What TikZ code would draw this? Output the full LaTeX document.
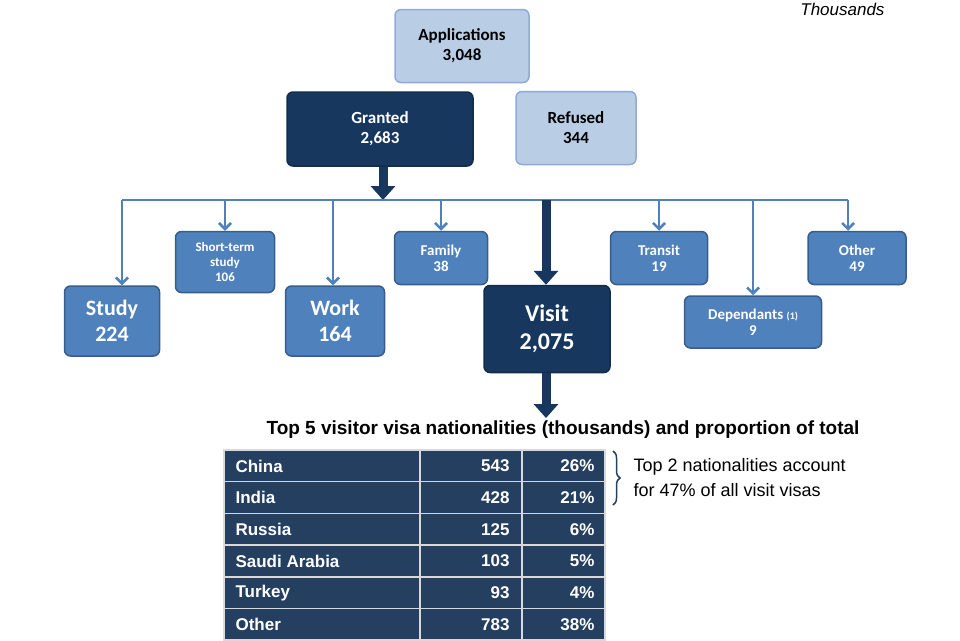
\documentclass[tikz,border=0pt]{standalone}
\usepackage{fontspec}
\setmainfont{Carlito}
\newfontfamily\arialfont{Liberation Sans}
\usetikzlibrary{arrows.meta, positioning, decorations.pathreplacing}
\definecolor{lightbox}{HTML}{B9CDE5}
\definecolor{lightedge}{HTML}{8EAADB}
\definecolor{darkbox}{HTML}{17375E}
\definecolor{midbox}{HTML}{4F81BD}
\definecolor{midedge}{HTML}{385D8A}
\definecolor{tablebg}{HTML}{243F60}
\tikzset{
  lightnode/.style={rectangle, rounded corners=6pt, draw=lightedge, line width=1.5pt, fill=lightbox, text=black, font=\bfseries\fontsize{17}{20}\selectfont, align=center},
  darknode/.style={rectangle, rounded corners=6pt, draw=darkbox!80!black, line width=1.5pt, fill=darkbox, text=white, align=center},
  catnode/.style={rectangle, rounded corners=6pt, draw=midedge, line width=1.5pt, fill=midbox, text=white, align=center, font=\bfseries\fontsize{15}{16}\selectfont},
  bignode/.style={catnode, font=\bfseries\fontsize{22}{26}\selectfont},
  thinarrow/.style={midbox, line width=2.5pt, -{Straight Barb[length=6pt,width=12pt]}},
  fatarrow/.style={darkbox, line width=9pt, -{Triangle[length=14pt,width=24pt]}},
  cellline/.style={draw=white!85!black, line width=1.5pt},
  celltext/.style={text=white, font=\arialfont\bfseries\fontsize{17}{20}\selectfont}
}
\begin{document}
\begin{tikzpicture}[x=1pt, y=-1pt]
    \useasboundingbox (0,0) rectangle (960,640);
    % Top boxes
    \node[lightnode, minimum width=134pt, minimum height=73pt] (apps) at (462,46) {Applications\\3,048};
    \node[darknode, minimum width=186pt, minimum height=74pt, font=\bfseries\fontsize{17}{20}\selectfont] (granted) at (380,129) {Granted\\2,683};
    \node[lightnode, minimum width=120pt, minimum height=73pt] (refused) at (576,128) {Refused\\344};
    \node[anchor=north east, font=\itshape\arialfont\fontsize{17}{20}\selectfont] (units) at (888,0) {Thousands};
    
    % Categories
    \node[bignode, minimum width=95pt, minimum height=70pt] (study) at (112,321) {Study\\224};
    \node[catnode, minimum width=99pt, minimum height=61pt, font=\bfseries\fontsize{13}{15}\selectfont] (short) at (225,262) {Short-term\\study\\106};
    \node[bignode, minimum width=99pt, minimum height=70pt] (work) at (335,321) {Work\\164};
    \node[catnode, minimum width=93pt, minimum height=53pt] (family) at (441,258) {Family\\38};
    \node[darknode, minimum width=126pt, minimum height=87pt, font=\bfseries\fontsize{24}{28}\selectfont] (visit) at (547,329) {Visit\\2,075};
    \node[catnode, minimum width=97pt, minimum height=53pt] (transit) at (659,258) {Transit\\19};
    \node[catnode, minimum width=137pt, minimum height=52pt] (dep) at (753,322) {Dependants {\fontsize{10}{12}\selectfont(1)}\\9};
    \node[catnode, minimum width=98pt, minimum height=53pt] (other) at (857,258) {Other\\49};
    
    % Connectors
    \coordinate (split) at (383,200);
    \coordinate (left) at (122,200);
    \coordinate (right) at (848,200);
    \draw[fatarrow] (granted.south -| split) -- (split);
    \draw[midbox, line width=2.5pt] (left) -- (right);
    \draw[thinarrow] (left) -- (left |- study.north);
    \draw[thinarrow] (225,200) -- (short.north);
    \draw[thinarrow] (333,200) -- (333,0 |- work.north);
    \draw[thinarrow] (441,200) -- (family.north);
    \draw[fatarrow] (546,200) -- (546,0 |- visit.north);
    \draw[thinarrow] (659,200) -- (transit.north);
    \draw[thinarrow] (753,200) -- (dep.north);
    \draw[thinarrow] (right) -- (right |- other.north);
    \coordinate (tabletop) at (546,418);
    \draw[fatarrow] (visit.south -| tabletop) -- (tabletop);
    
    % Table
    \node[font=\arialfont\bfseries\fontsize{19}{22}\selectfont] (title) at (563,430) {Top 5 visitor visa nationalities (thousands) and proportion of total};
    \fill[tablebg] (224,450) rectangle (605,640);
    \foreach \name/\num/\pct [count=\i from 0] in {China/543/26\%, India/428/21\%, Russia/125/6\%, Saudi Arabia/103/5\%, Turkey/93/4\%, Other/783/38\%} {
        \node[celltext, anchor=west] (name\i) at (232,466+31.7*\i) {\name};
        \node[celltext, anchor=east] (num\i) at (513,466+31.7*\i) {\num};
        \node[celltext, anchor=east] (pct\i) at (598,466+31.7*\i) {\pct};
    }
    \foreach \i in {1,...,5}
        \draw[cellline] (224,450+31.7*\i) -- (605,450+31.7*\i);
    \draw[cellline] (224,450) rectangle (605,640);
    \draw[cellline] (420,450) -- (420,640);
    \draw[cellline] (522,450) -- (522,640);
    
    % Note
    \draw[decorate, decoration={brace, amplitude=7pt}, line width=1.5pt, tablebg] (613,451) -- (613,505);
    \node[anchor=west, align=left, font=\arialfont\fontsize{18}{25}\selectfont] (note) at (630,478) {Top 2 nationalities account\\for 47\% of all visit visas};
\end{tikzpicture}
\end{document}
